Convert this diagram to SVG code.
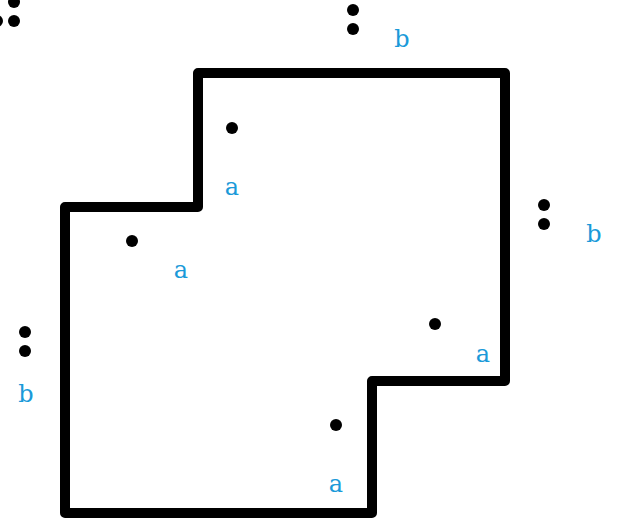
<svg xmlns="http://www.w3.org/2000/svg" width="618" height="525" viewBox="0 0 618 525">
<style>
.wall{fill:none;stroke:#000;stroke-width:10;stroke-linejoin:round;stroke-linecap:round}
.dot{fill:#000}
.lbl{fill:#1a9ad9;font-family:"DejaVu Serif","Liberation Serif",serif;font-size:24px;text-anchor:middle}
</style>
<rect width="618" height="525" fill="#fff"/>
<g id="region">
<path class="wall" d="M65,207 H198 V73 H505 V381 H372 V513 H65 Z"/>
</g>
<g id="corner-topleft">
<circle class="dot" cx="14" cy="2" r="6"/>
<circle class="dot" cx="14" cy="21" r="6"/>
<circle class="dot" cx="-3" cy="21" r="6"/>
</g>
<g id="b-top">
<circle class="dot" cx="353" cy="10" r="6"/>
<circle class="dot" cx="353" cy="29" r="6"/>
<text class="lbl" x="402" y="47">b</text>
</g>
<g id="b-right">
<circle class="dot" cx="544" cy="205" r="6"/>
<circle class="dot" cx="544" cy="224" r="6"/>
<text class="lbl" x="594" y="242">b</text>
</g>
<g id="b-left">
<circle class="dot" cx="25" cy="332" r="6"/>
<circle class="dot" cx="25" cy="351" r="6"/>
<text class="lbl" x="26" y="402">b</text>
</g>
<g id="a1">
<circle class="dot" cx="232" cy="128" r="6"/>
<text class="lbl" x="232" y="195">a</text>
</g>
<g id="a2">
<circle class="dot" cx="132" cy="241" r="6"/>
<text class="lbl" x="181" y="278">a</text>
</g>
<g id="a3">
<circle class="dot" cx="435" cy="324" r="6"/>
<text class="lbl" x="483" y="362">a</text>
</g>
<g id="a4">
<circle class="dot" cx="336" cy="425" r="6"/>
<text class="lbl" x="336" y="492">a</text>
</g>
<g id="connectors"></g>
</svg>
